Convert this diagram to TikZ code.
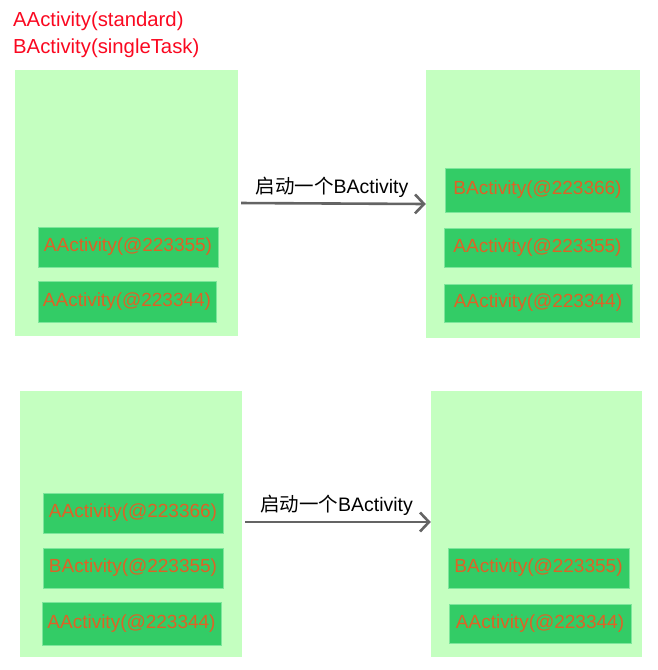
\documentclass[tikz,border=0pt]{standalone}
\definecolor{panelgreen}{RGB}{196,255,192}
\definecolor{taskgreen}{RGB}{51,204,102}
\definecolor{taskedge}{RGB}{125,230,155}
\definecolor{labelorange}{RGB}{222,98,38}
\definecolor{titlered}{RGB}{250,8,32}
\definecolor{arrowgray}{RGB}{100,100,100}
\usepackage{fontspec}
\setmainfont{Liberation Sans}
\newfontfamily\cjk{Noto Sans CJK SC}
\usepackage{tikz}
\usetikzlibrary{arrows.meta,positioning,calc}

\begin{document}
\begin{tikzpicture}[x=1pt, y=-1pt, every node/.style={font=\fontsize{19}{22}\selectfont},
                    stack/.style={fill=panelgreen, inner sep=0pt},
                    act/.style={draw=taskedge, fill=taskgreen, text=labelorange, minimum width=180pt, minimum height=40pt, inner sep=0pt},
                    launch/.style={-{Straight Barb[length=9pt,width=19pt]}, line width=2.6pt, arrowgray}]
                    \useasboundingbox (0,0) rectangle (657,670);
                    % launch modes
                    \node[anchor=base west, inner sep=0pt, text=titlered, font=\fontsize{20.3}{23}\selectfont] (modea) at (13,26.7) {AActivity(standard)};
                    \node[anchor=base west, inner sep=0pt, text=titlered, font=\fontsize{20.3}{23}\selectfont] (modeb) at (13,53.3) {BActivity(singleTask)};
                    % task stacks
                    \node[stack, minimum width=223pt, minimum height=266pt] (s1) at (126.5,203) {};
                    \node[stack, minimum width=214pt, minimum height=268pt] (s2) at (533,204) {};
                    \node[stack, minimum width=222pt, minimum height=266pt] (s3) at (131,524) {};
                    \node[stack, minimum width=211pt, minimum height=266pt] (s4) at (536.5,524) {};
                    % activities, first case
                    \node[act] (a1) at (128,247) {AActivity(@223355)};
                    \node[act, minimum width=178pt, minimum height=41pt] (a2) at (127,301.5) {AActivity(@223344)};
                    \node[act, minimum width=185pt, minimum height=44pt] (b1) at (537.5,190) {BActivity(@223366)};
                    \node[act, minimum width=187pt, minimum height=39pt] (b2) at (537.5,247.5) {AActivity(@223355)};
                    \node[act, minimum width=188pt, minimum height=38pt] (b3) at (538,303) {AActivity(@223344)};
                    % activities, second case
                    \node[act] (c1) at (133,513) {AActivity(@223366)};
                    \node[act] (c2) at (133,568) {BActivity(@223355)};
                    \node[act, minimum width=179pt, minimum height=43pt] (c3) at (131.5,623.5) {AActivity(@223344)};
                    \node[act, minimum width=181pt] (d1) at (538.5,568) {BActivity(@223355)};
                    \node[act, minimum width=182pt, minimum height=39pt] (d2) at (540,623.5) {AActivity(@223344)};
                    % start B
                    \draw[launch, shorten <=3pt] (s1.east) -- node[above=5pt, inner sep=0pt, text=black, font=\fontsize{19.5}{22}\selectfont] (go1) {{\cjk 启动一个}BActivity} (s2.west);
                    \draw[launch, shorten <=3pt] ($(s3.east)+(0,-2)$) -- node[above=5pt, inner sep=0pt, text=black, font=\fontsize{19.5}{22}\selectfont] (go2) {{\cjk 启动一个}BActivity} ($(s4.west)+(0,-2)$);
                \end{tikzpicture}
\end{document}
